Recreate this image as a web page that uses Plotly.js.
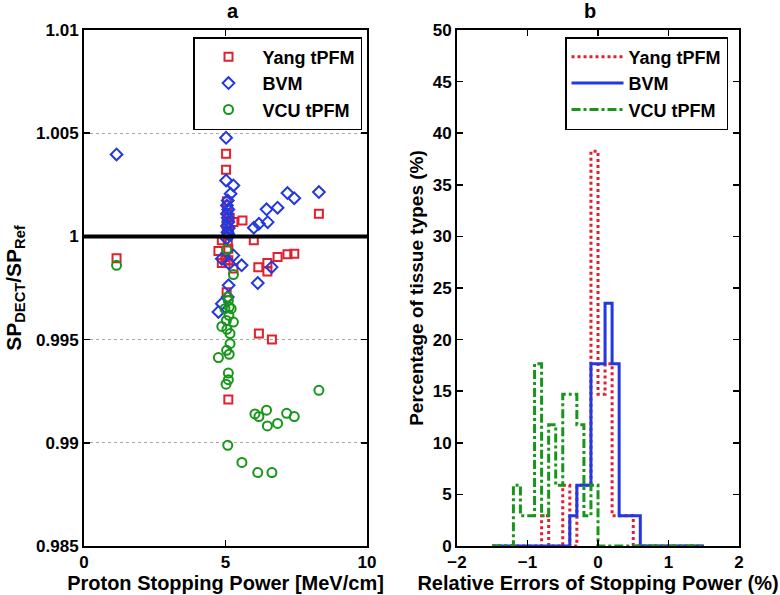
<!DOCTYPE html>
<html>
<head>
<meta charset="utf-8">
<script src="https://cdn.plot.ly/plotly-3.0.1.min.js"></script>
<style>html,body{margin:0;padding:0;background:#fff}#chart{width:780px;height:595px}</style>
</head>
<body>
<div id="chart"></div>
<script>
// ---------- Panel a: SP ratio vs proton stopping power ----------
const yangX = [1.15, 5.02, 5.02, 5.05, 5.06, 5.05, 5.08, 5.04, 5.28, 5.60, 4.87, 6.00, 4.75, 4.87, 5.28, 6.16, 6.48, 6.48, 6.84, 7.19, 7.43, 8.30, 5.04, 6.18, 6.64, 5.10, 5.00, 5.10, 5.08, 5.12, 5.05, 5.10, 5.00, 5.15];
const yangY = [0.99894, 1.00400, 1.00323, 1.00170, 1.00150, 1.00130, 1.00110, 1.00060, 1.00070, 1.00077, 0.99981, 0.99981, 0.99929, 0.99871, 0.99844, 0.99851, 0.99871, 0.99830, 0.99900, 0.99913, 0.99916, 1.00110, 0.99730, 0.99530, 0.99501, 0.99210, 0.99900, 0.99940, 0.99970, 1.00020, 1.00040, 0.99885, 0.99885, 1.00090];

const bvmX = [1.15, 5.02, 5.02, 5.28, 5.18, 5.08, 7.19, 7.43, 8.30, 6.45, 6.84, 6.18, 6.00, 6.49, 4.87, 5.28, 5.57, 5.13, 6.63, 6.14, 5.11, 5.08, 4.87, 4.75, 5.05, 5.10, 5.05, 5.08, 5.10, 5.05, 5.12, 5.07, 5.10, 5.04];
const bvmY = [1.00397, 1.00478, 1.00271, 1.00247, 1.00207, 1.00174, 1.00210, 1.00185, 1.00215, 1.00131, 1.00139, 1.00061, 1.00042, 1.00069, 0.99892, 0.99908, 0.99860, 0.99868, 0.99851, 0.99774, 0.99763, 0.99706, 0.99674, 0.99634, 1.00150, 1.00130, 1.00110, 1.00090, 1.00070, 1.00050, 1.00040, 1.00020, 1.00010, 0.99990];

const vcuX = [1.15, 5.04, 5.28, 5.08, 5.13, 4.98, 5.20, 5.12, 5.28, 5.03, 4.87, 5.16, 5.16, 5.04, 4.75, 5.13, 5.10, 5.10, 5.02, 6.04, 6.18, 6.45, 6.48, 6.84, 7.16, 7.43, 8.30, 5.08, 5.58, 6.14, 6.64, 5.10, 5.05];
const vcuY = [0.99860, 0.99936, 0.99815, 0.99706, 0.99658, 0.99650, 0.99650, 0.99618, 0.99585, 0.99593, 0.99564, 0.99529, 0.99480, 0.99448, 0.99413, 0.99429, 0.99338, 0.99306, 0.99284, 0.99140, 0.99127, 0.99158, 0.99082, 0.99094, 0.99143, 0.99127, 0.99254, 0.98988, 0.98905, 0.98856, 0.98856, 0.99690, 0.99550];

// ---------- Panel b: histogram of relative errors (percent of tissues) ----------
const binEdges = [-1.5, -1.4, -1.3, -1.2, -1.1, -1.0, -0.9, -0.8, -0.7, -0.6, -0.5, -0.4, -0.3, -0.2, -0.1, 0.0, 0.1, 0.2, 0.3, 0.4, 0.5, 0.6, 0.7, 0.8, 0.9, 1.0, 1.1, 1.2, 1.3, 1.4, 1.5];
const yangPct = [0, 0, 0, 0, 0, 0, 0, 2.94, 0, 0, 5.88, 0, 5.88, 5.88, 38.24, 14.71, 17.65, 2.94, 2.94, 2.94, 0, 0, 0, 0, 0, 0, 0, 0, 0, 0, 0];
const bvmPct  = [0, 0, 0, 0, 0, 0, 0, 0, 0, 0, 0, 2.94, 5.88, 5.88, 17.65, 17.65, 23.53, 17.65, 2.94, 2.94, 2.94, 0, 0, 0, 0, 0, 0, 0, 0, 0, 0];
const vcuPct  = [0, 0, 0, 5.88, 2.94, 2.94, 17.65, 2.94, 11.76, 5.88, 14.71, 14.71, 11.76, 2.94, 5.88, 0, 0, 0, 0, 0, 0, 0, 0, 0, 0, 0, 0, 0, 0, 0, 0];

const seriesNames = ['Yang tPFM', 'BVM', 'VCU tPFM'];
const RED = '#e0202e', BLUE = '#2238e0', GREEN = '#17961a';
const FONT = 'Liberation Sans, Arial, Helvetica, sans-serif';

const traces = [
  {x: yangX, y: yangY, type: 'scatter', mode: 'markers', name: seriesNames[0], xaxis: 'x', yaxis: 'y', legend: 'legend',
   marker: {symbol: 'square-open', size: 8, color: RED, line: {width: 2, color: RED}}},
  {x: bvmX, y: bvmY, type: 'scatter', mode: 'markers', name: seriesNames[1], xaxis: 'x', yaxis: 'y', legend: 'legend',
   marker: {symbol: 'diamond-open', size: 9, color: BLUE, line: {width: 2, color: BLUE}}},
  {x: vcuX, y: vcuY, type: 'scatter', mode: 'markers', name: seriesNames[2], xaxis: 'x', yaxis: 'y', legend: 'legend',
   marker: {symbol: 'circle-open', size: 9, color: GREEN, line: {width: 2, color: GREEN}}},
  {x: binEdges, y: yangPct, type: 'scatter', mode: 'lines', name: seriesNames[0], xaxis: 'x2', yaxis: 'y2', legend: 'legend2',
   line: {shape: 'hv', color: RED, width: 3, dash: 'dot'}},
  {x: binEdges, y: bvmPct, type: 'scatter', mode: 'lines', name: seriesNames[1], xaxis: 'x2', yaxis: 'y2', legend: 'legend2',
   line: {shape: 'hv', color: BLUE, width: 3}},
  {x: binEdges, y: vcuPct, type: 'scatter', mode: 'lines', name: seriesNames[2], xaxis: 'x2', yaxis: 'y2', legend: 'legend2',
   line: {shape: 'hv', color: GREEN, width: 3, dash: 'dashdot'}}
];

const tickFont = {family: FONT, size: 17, color: '#000', weight: 'bold'};
const xTitleFont = {family: FONT, size: 20, color: '#000', weight: 'bold'};
const yTitleFont = {family: FONT, size: 19, color: '#000', weight: 'bold'};
const axBase = {showline: true, linecolor: '#000', linewidth: 2, mirror: 'ticks', ticks: 'inside', ticklen: 6,
  tickwidth: 1.5, tickcolor: '#000', tickfont: tickFont, zeroline: false, showgrid: false, fixedrange: true};

const legendBase = {xanchor: 'left', yanchor: 'top', bgcolor: '#fff', bordercolor: '#000', borderwidth: 1.5,
  font: {family: FONT, size: 18, color: '#000', weight: 'bold'}, tracegroupgap: 0};

const layout = {
  width: 780, height: 595,
  margin: {l: 0, r: 0, t: 0, b: 0},
  paper_bgcolor: '#fff', plot_bgcolor: '#fff',
  font: {family: FONT, color: '#000'},
  xaxis: Object.assign({}, axBase, {domain: [84/780, 367/780], range: [0, 10], tickvals: [0, 5, 10], ticktext: ['0', '5', '10'],
    title: {text: 'Proton Stopping Power [MeV/cm]', font: xTitleFont, standoff: 2}, anchor: 'y'}),
  yaxis: Object.assign({}, axBase, {domain: [1 - 546/595, 1 - 30/595], range: [0.985, 1.01],
    tickvals: [0.985, 0.99, 0.995, 1, 1.005, 1.01], ticktext: ['0.985', '0.99', '0.995', '1', '1.005', '1.01'],
    showgrid: true, gridcolor: '#a8a8a8', griddash: 'dot', gridwidth: 1,
    title: {text: 'SP<sub>DECT</sub>/SP<sub>Ref</sub>', font: {family: FONT, size: 21, color: '#000', weight: 'bold'}, standoff: 9}, anchor: 'x'}),
  xaxis2: Object.assign({}, axBase, {domain: [457/780, 739/780], range: [-2, 2], tickvals: [-2, -1, 0, 1, 2],
    title: {text: 'Relative Errors of Stopping Power (%)', font: xTitleFont, standoff: 2}, anchor: 'y2'}),
  yaxis2: Object.assign({}, axBase, {domain: [1 - 546/595, 1 - 30/595], range: [0, 50], tickvals: [0, 5, 10, 15, 20, 25, 30, 35, 40, 45, 50],
    title: {text: 'Percentage of tissue types (%)', font: yTitleFont, standoff: 4}, anchor: 'x2'}),
  shapes: [
    {type: 'line', xref: 'x domain', yref: 'y', x0: 0, x1: 1, y0: 1, y1: 1, line: {color: '#000', width: 4}, layer: 'above'}
  ],
  annotations: [
    {text: 'a', xref: 'paper', yref: 'paper', x: 225/780, y: 1 - 11/595, showarrow: false, font: xTitleFont, yanchor: 'middle'},
    {text: 'b', xref: 'paper', yref: 'paper', x: 598/780, y: 1 - 11/595, showarrow: false, font: xTitleFont, yanchor: 'middle'}
  ],
  legend: Object.assign({}, legendBase, {x: 193/780, y: 1 - 37/595, itemwidth: 58}),
  legend2: Object.assign({}, legendBase, {x: 565/780, y: 1 - 37/595, itemwidth: 52}),
  showlegend: true
};

Plotly.newPlot('chart', traces, layout, {displayModeBar: false, staticPlot: true});
</script>
</body>
</html>
